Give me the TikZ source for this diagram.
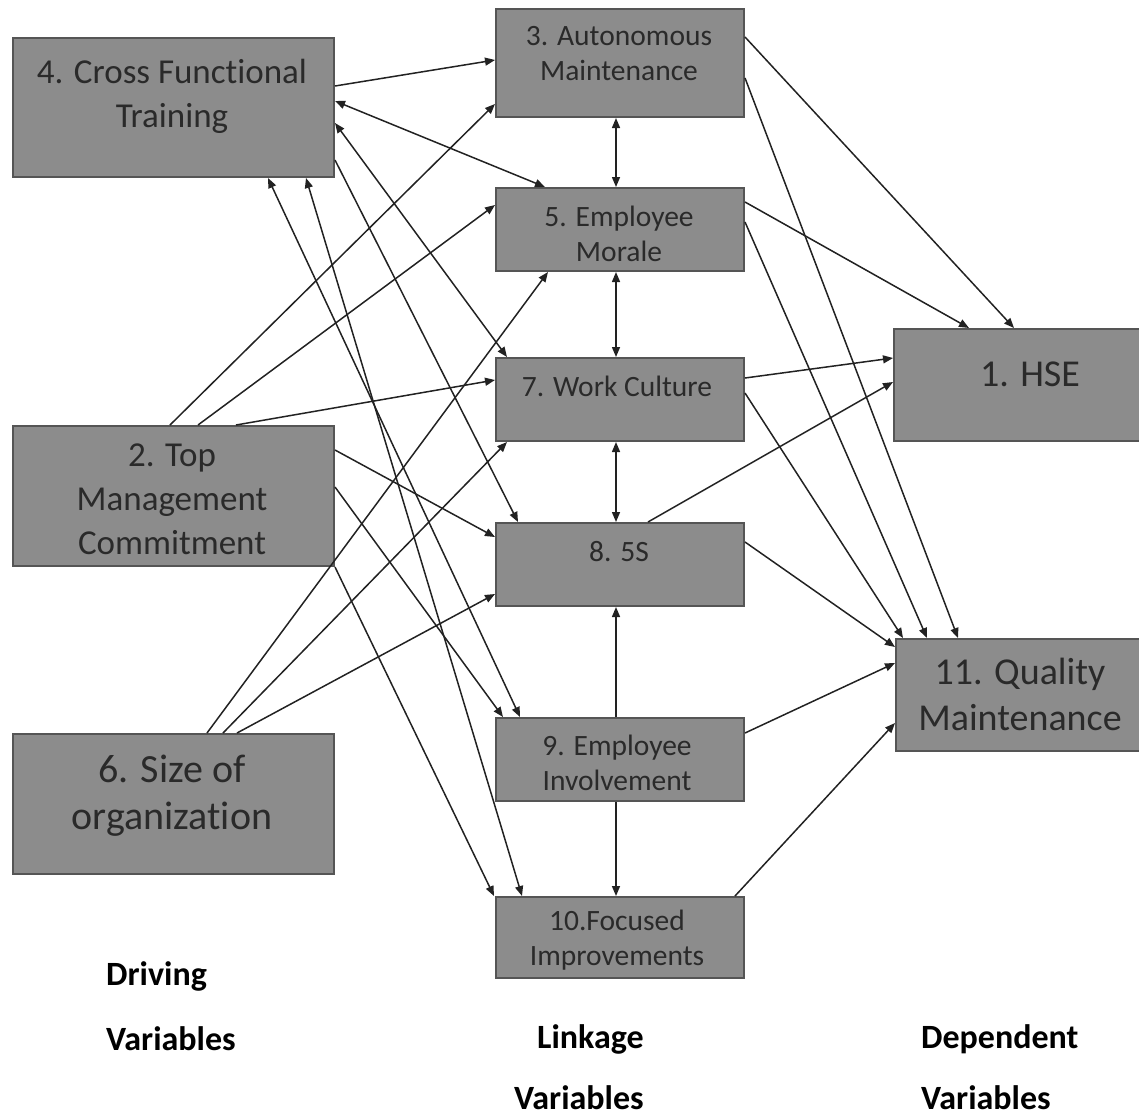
\documentclass[tikz,border=0pt]{standalone}
\usepackage{fontspec}
\setmainfont{Carlito}[Ligatures=NoCommon]
\usetikzlibrary{arrows.meta,calc}
\definecolor{boxfill}{HTML}{8C8C8C}
\definecolor{boxline}{HTML}{555555}
\definecolor{txtcol}{HTML}{2A2A2A}
\definecolor{linecol}{HTML}{222222}
\begin{document}
\begin{tikzpicture}[x=1pt,y=-1pt,
  vbox/.style={draw=boxline, fill=boxfill, line width=2pt, inner sep=0pt, anchor=north west},
  bigtxt/.style={text=txtcol, align=center, font=\fontsize{35}{44}\selectfont},
  midtxt/.style={text=txtcol, align=center, font=\fontsize{38}{46}\selectfont},
  smtxt/.style={text=txtcol, align=center, font=\fontsize{29.5}{35}\selectfont},
  lab/.style={text=black, anchor=west, inner sep=1pt, font=\bfseries\fontsize{34}{40}\selectfont},
  conn/.style={draw=linecol, line width=1.5pt, -{Triangle[length=10pt,width=8pt]}},
  bconn/.style={draw=linecol, line width=1.5pt, {Triangle[length=10pt,width=8pt]}-{Triangle[length=10pt,width=8pt]}}
]
\useasboundingbox (0,0) rectangle (1139,1117);
% boxes
\node[vbox, minimum width=321pt, minimum height=139pt] (b4) at (12,37) {};
\node[vbox, minimum width=321pt, minimum height=140pt] (b2) at (12,425) {};
\node[vbox, minimum width=321pt, minimum height=140pt] (b6) at (12,733) {};
\node[vbox, minimum width=248pt, minimum height=108pt] (b3) at (495,8) {};
\node[vbox, minimum width=248pt, minimum height=83pt] (b5) at (495,187) {};
\node[vbox, minimum width=248pt, minimum height=83pt] (b7) at (495,357) {};
\node[vbox, minimum width=248pt, minimum height=83pt] (b8) at (495,522) {};
\node[vbox, minimum width=248pt, minimum height=83pt] (b9) at (495,717) {};
\node[vbox, minimum width=248pt, minimum height=81pt] (b10) at (495,896) {};
\node[vbox, minimum width=250pt, minimum height=112pt] (b1) at (893,328) {};
\node[vbox, minimum width=248pt, minimum height=112pt] (b11) at (895,638) {};
% box texts
\node[bigtxt] (t4) at (172,96) {4. Cross Functional\\Training};
\node[bigtxt] (t2) at (172,499) {2. Top\\Management\\Commitment};
\node[bigtxt, font=\fontsize{40}{47}\selectfont] (t6) at (172,796) {6. Size of\\organization};
\node[smtxt] (t3) at (619,54) {3. Autonomous\\Maintenance};
\node[smtxt] (t5) at (619,234) {5. Employee\\Morale};
\node[smtxt] (t7) at (617,386) {7. Work Culture};
\node[smtxt] (t8) at (619,552) {8. 5S};
\node[smtxt] (t9) at (617,763) {9. Employee\\Involvement};
\node[smtxt] (t10) at (617,940) {10.Focused\\Improvements};
\node[midtxt] (t1) at (1030,374) {1. HSE};
\node[midtxt] (t11) at (1020,694) {11. Quality\\Maintenance};
% bottom labels
\node[lab] (l1) at (105,976) {Driving};
\node[lab] (l2) at (105,1039) {Variables};
\node[lab] (l3) at (536,1039) {Linkage};
\node[lab] (l4) at (513,1098) {Variables};
\node[lab] (l5) at (920,1039) {Dependent};
\node[lab] (l6) at (920,1098) {Variables};
% connectors from 4
\draw[conn] ($(b4.north east)+(0,49)$) -- ($(b3.north west)+(0,52)$);
\draw[bconn] ($(b4.north east)+(0,64)$) -- ($(b5.north west)+(50,0)$);
\draw[bconn] ($(b4.north east)+(0,86)$) -- ($(b7.north west)+(12,0)$);
\draw[conn] ($(b4.north east)+(0,123)$) -- ($(b8.north west)+(23,0)$);
\draw[bconn] ($(b4.south east)+(-67,0)$) -- ($(b9.north west)+(25,0)$);
\draw[bconn] ($(b4.south east)+(-29,0)$) -- ($(b10.north west)+(27,0)$);
% connectors from 2
\draw[conn] ($(b2.north west)+(158,0)$) -- ($(b3.south west)+(0,-14)$);
\draw[conn] ($(b2.north west)+(186,0)$) -- ($(b5.north west)+(0,18)$);
\draw[conn] ($(b2.north west)+(224,0)$) -- ($(b7.north west)+(0,23)$);
\draw[conn] ($(b2.north east)+(0,25)$) -- ($(b8.north west)+(0,15)$);
\draw[conn] ($(b2.north east)+(0,62)$) -- ($(b9.north west)+(8,0)$);
\draw[conn] (b2.south east) -- ($(b10.north west)+(-1,0)$);
% connectors from 6
\draw[conn] ($(b6.north west)+(195,0)$) -- ($(b5.south west)+(53,0)$);
\draw[conn] ($(b6.north west)+(211,0)$) -- ($(b7.south west)+(12,0)$);
\draw[conn] ($(b6.north west)+(225,0)$) -- ($(b8.south west)+(0,-13)$);
% vertical links
\draw[bconn] ($(b3.south)+(-4,0)$) -- ($(b5.north)+(-4,0)$);
\draw[bconn] ($(b5.south)+(-4,0)$) -- ($(b7.north)+(-4,0)$);
\draw[bconn] ($(b7.south)+(-4,0)$) -- ($(b8.north)+(-4,0)$);
\draw[conn] ($(b9.north)+(-4,0)$) -- ($(b8.south)+(-4,0)$);
\draw[conn] ($(b9.south)+(-4,0)$) -- ($(b10.north)+(-4,0)$);
% to dependent
\draw[conn] ($(b3.north east)+(0,29)$) -- ($(b1.north west)+(121,0)$);
\draw[conn] ($(b3.north east)+(0,70)$) -- ($(b11.north west)+(63,0)$);
\draw[conn] ($(b5.north east)+(0,15)$) -- ($(b1.north west)+(76,0)$);
\draw[conn] ($(b5.north east)+(0,35)$) -- ($(b11.north west)+(32,0)$);
\draw[conn] ($(b7.north east)+(0,21)$) -- ($(b1.north west)+(0,30)$);
\draw[conn] ($(b7.north east)+(0,36)$) -- ($(b11.north west)+(8,0)$);
\draw[conn] ($(b8.north west)+(153,0)$) -- ($(b1.north west)+(0,54)$);
\draw[conn] ($(b8.north east)+(0,20)$) -- ($(b11.north west)+(0,9)$);
\draw[conn] ($(b9.north east)+(0,16)$) -- ($(b11.north west)+(0,25)$);
\draw[conn] ($(b10.north east)+(-10,0)$) -- ($(b11.north west)+(0,85)$);
\end{tikzpicture}
\end{document}
